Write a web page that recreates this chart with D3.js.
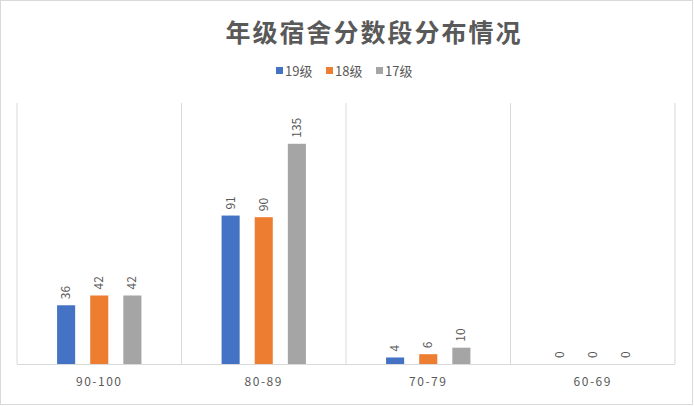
<!DOCTYPE html>
<html><head><meta charset="utf-8">
<script src="https://d3js.org/d3.v7.min.js"></script>
<style>body{margin:0;background:#fff}</style></head>
<body><svg id="c" width="694" height="406"></svg>
<script>
const categories=["90-100","80-89","70-79","60-69"];
const seriesNames=["19级","18级","17级"];
const colors=["#4472C4","#ED7D31","#A5A5A5"];
const s19=[36,91,4,0];
const s18=[42,90,6,0];
const s17=[42,135,10,0];
const values=[s19,s18,s17];
const svg=d3.select("#c");
const font="'Noto Sans CJK SC','Noto Sans',sans-serif";
svg.append("rect").attr("x",0.5).attr("y",0.5).attr("width",692).attr("height",404).attr("fill","#fff").attr("stroke","#d9d9d9");
svg.append("text").attr("x",374).attr("y",42).attr("text-anchor","middle").attr("font-family",font).attr("font-size",25).attr("font-weight","bold").attr("fill","#595959").attr("letter-spacing",2).text("年级宿舍分数段分布情况");
const x=d3.scaleBand().domain(categories).range([17,675]);
const xs=d3.scaleBand().domain(seriesNames).range([0,x.bandwidth()]).paddingInner(0.4545).paddingOuter(1.21);
const y=d3.scaleLinear().domain([0,160]).range([364,103]);
svg.selectAll(".g").data(d3.range(categories.length+1)).join("line").attr("x1",i=>17+i*x.bandwidth()).attr("x2",i=>17+i*x.bandwidth()).attr("y1",y(160)).attr("y2",364).attr("stroke","#d9d9d9");
svg.append("line").attr("x1",17).attr("x2",675).attr("y1",364.5).attr("y2",364.5).attr("stroke","#d9d9d9");
seriesNames.forEach((s,si)=>{
  categories.forEach((c,ci)=>{
    const v=values[si][ci];
    const bx=x(c)+xs(s);
    svg.append("rect").attr("x",bx).attr("y",y(v)).attr("width",xs.bandwidth()).attr("height",364-y(v)).attr("fill",colors[si]);
    const cx=bx+xs.bandwidth()/2, ty=y(v)-6;
    svg.append("text").attr("transform",`translate(${cx+4},${ty}) rotate(-90)`).attr("font-family",font).attr("font-size",12).attr("fill","#595959").text(v);
  });
});
categories.forEach(c=>svg.append("text").attr("x",x(c)+x.bandwidth()/2).attr("y",386).attr("text-anchor","middle").attr("font-family",font).attr("font-size",12).attr("fill","#595959").attr("letter-spacing",1.5).text(c));
const lg=svg.append("g");
let lx=276;
seriesNames.forEach((s,i)=>{
  lg.append("rect").attr("x",lx).attr("y",67).attr("width",7).attr("height",7).attr("fill",colors[i]);
  lg.append("text").attr("x",lx+9).attr("y",76).attr("font-family",font).attr("font-size",13).attr("fill","#595959").text(s);
  lx+=50;
});
</script></body></html>
